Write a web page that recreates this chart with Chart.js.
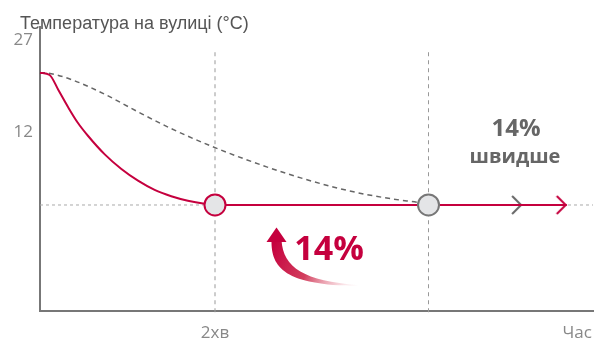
<!DOCTYPE html>
<html>
<head>
<meta charset="utf-8">
<script src="https://cdn.jsdelivr.net/npm/chart.js@4"></script>
<style>
  html, body { margin: 0; padding: 0; background: #fff; }
</style>
</head>
<body>
<canvas id="tempChart" width="606" height="345"></canvas>
<script>
// Осі
const xTicks = [2, 6.14];
const xTickLabels = ['2хв', 'Час'];
const yTicks = [12, 27];
const xMin = 0, xMax = 6.32;
const yMin = -17.35, yMax = 29.13;

// Швидке охолодження (червона крива)
const fastX = [0, 0.11, 0.21, 0.32, 0.43, 0.55, 0.74, 0.93, 1.12, 1.31, 1.5, 1.69, 1.88, 2, 6.02];
const fastY = [21.65, 21.28, 18.82, 16.04, 13.5, 11.29, 8.28, 5.89, 3.98, 2.47, 1.44, 0.7, 0.2, 0, 0];

// Звичайне охолодження (сіра пунктирна)
const slowX = [0, 0.08, 0.36, 0.74, 1.12, 1.5, 2.0, 2.59, 2.97, 3.35, 3.73, 4.11, 4.31, 4.44, 5.51];
const slowY = [21.65, 21.6, 20.52, 18.12, 15.24, 12.5, 9.38, 6.24, 4.48, 2.95, 1.72, 0.82, 0.44, 0, 0];

// Моменти досягнення цільової температури
const reachX = [2, 4.44];
const reachY = [0, 0];
const targetTemp = 0;
const guideTop = 25;

const RED = '#c5003e';
const GREY = '#666';

const pts = (xs, ys) => xs.map((x, i) => ({ x: x, y: ys[i] }));

// стрілка-шеврон на кінці лінії
function chevron(color) {
  const c = document.createElement('canvas');
  c.width = 24;
  c.height = 22;
  const g = c.getContext('2d');
  g.strokeStyle = color;
  g.lineWidth = 2;
  g.beginPath();
  g.moveTo(2, 2);
  g.lineTo(11, 11);
  g.lineTo(2, 20);
  g.stroke();
  return c;
}

const lastOnly = (n, r) => (ctx) => (ctx.dataIndex === n - 1 ? r : 0);

const labelFont = { family: '"Open Sans", sans-serif', size: 17, weight: 'normal' };

// підписи, заголовок і вигнута стрілка
const notes = {
  id: 'notes',
  afterDatasetsDraw(chart) {
    const ctx = chart.ctx;
    ctx.save();

    ctx.textBaseline = 'alphabetic';
    ctx.font = '18px "Liberation Sans", Arial, sans-serif';
    ctx.fillStyle = '#555';
    ctx.textAlign = 'left';
    ctx.fillText('Температура на вулиці (°C)', 20, 29);

    ctx.textBaseline = 'middle';
    ctx.textAlign = 'center';
    ctx.fillStyle = GREY;
    ctx.font = 'bold 24px "Open Sans", sans-serif';
    ctx.fillText('14%', 516, 129);
    ctx.font = 'bold 20px "Open Sans", sans-serif';
    ctx.fillText('швидше', 515, 157);

    ctx.fillStyle = RED;
    ctx.font = 'bold 34px "Open Sans", sans-serif';
    ctx.fillText('14%', 329, 250);

    const grad = ctx.createLinearGradient(272, 245, 358, 286);
    grad.addColorStop(0, RED);
    grad.addColorStop(0.45, 'rgba(205, 40, 75, 0.9)');
    grad.addColorStop(1, 'rgba(240, 170, 180, 0)');
    ctx.fillStyle = grad;
    ctx.beginPath();
    ctx.moveTo(271.5, 240);
    ctx.bezierCurveTo(271, 268, 285, 285, 358, 286);
    ctx.lineTo(358, 285);
    ctx.bezierCurveTo(305, 281, 283, 268, 281.5, 240);
    ctx.closePath();
    ctx.fill();

    ctx.fillStyle = RED;
    ctx.beginPath();
    ctx.moveTo(276.5, 227.5);
    ctx.lineTo(286.5, 242);
    ctx.lineTo(266.5, 242);
    ctx.closePath();
    ctx.fill();
    ctx.restore();
  }
};

new Chart(document.getElementById('tempChart'), {
  type: 'line',
  data: {
    datasets: [
      {
        data: pts(reachX, reachY),
        showLine: false,
        pointRadius: 10.5,
        pointBorderWidth: 2,
        pointBackgroundColor: '#e4e5e7',
        pointBorderColor: [RED, '#777'],
        clip: false,
        order: 0
      },
      {
        data: pts(fastX, fastY),
        borderColor: RED,
        borderWidth: 2,
        cubicInterpolationMode: 'monotone',
        pointStyle: chevron(RED),
        pointRadius: lastOnly(fastX.length, 8),
        clip: false,
        order: 1
      },
      {
        data: pts(slowX, slowY),
        borderColor: GREY,
        borderWidth: 1.5,
        borderDash: [5, 4],
        cubicInterpolationMode: 'monotone',
        pointStyle: chevron(GREY),
        pointRadius: lastOnly(slowX.length, 8),
        clip: false,
        order: 2
      },
      {
        data: pts([xMin, xMax], [targetTemp, targetTemp]),
        borderColor: '#aaa',
        borderWidth: 1,
        borderDash: [3, 3],
        pointRadius: 0,
        clip: false,
        order: 3
      },
      {
        data: pts([reachX[0], reachX[0]], [guideTop, yMin - 0.3]),
        borderColor: '#999',
        borderWidth: 1,
        borderDash: [4, 4],
        pointRadius: 0,
        clip: false,
        order: 4
      },
      {
        data: pts([reachX[1], reachX[1]], [guideTop, yMin - 0.3]),
        borderColor: '#999',
        borderWidth: 1,
        borderDash: [4, 4],
        pointRadius: 0,
        clip: false,
        order: 4
      }
    ]
  },
  options: {
    responsive: false,
    animation: false,
    events: [],
    layout: { padding: { left: 0, top: 27, right: 13, bottom: 0 } },
    plugins: {
      legend: { display: false },
      tooltip: { enabled: false }
    },
    scales: {
      x: {
        type: 'linear',
        min: xMin,
        max: xMax,
        afterBuildTicks: (s) => { s.ticks = xTicks.map((v) => ({ value: v })); },
        afterFit: (s) => { s.height = 34; },
        grid: { display: false, drawTicks: false },
        border: { display: true, color: '#777', width: 2 },
        ticks: {
          autoSkip: false,
          maxRotation: 0,
          padding: 12,
          color: '#888',
          font: labelFont,
          callback: (v, i) => xTickLabels[i]
        }
      },
      y: {
        type: 'linear',
        min: yMin,
        max: yMax,
        afterBuildTicks: (s) => { s.ticks = yTicks.map((v) => ({ value: v })); },
        afterFit: (s) => { s.width = 40; },
        grid: { display: false, drawTicks: false },
        border: { display: true, color: '#777', width: 2 },
        ticks: {
          padding: 7,
          color: '#888',
          font: labelFont,
          callback: (v) => String(v)
        }
      }
    }
  },
  plugins: [notes]
});
</script>
</body>
</html>
